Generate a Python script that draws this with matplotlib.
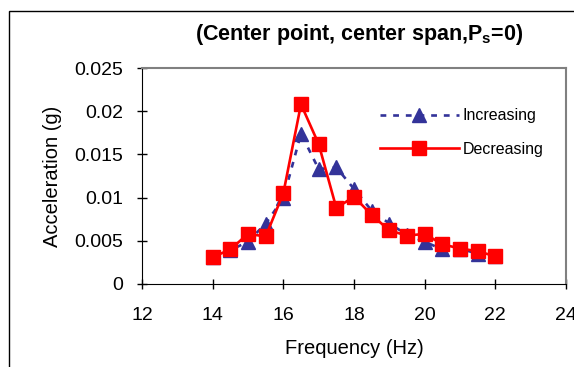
import matplotlib
matplotlib.use('Agg')
import matplotlib.pyplot as plt
from matplotlib.patches import Rectangle

plt.rcParams['font.family'] = ['Liberation Sans', 'DejaVu Sans']

# frequency sweep (Hz)
freq = [14, 14.5, 15, 15.5, 16, 16.5, 17, 17.5, 18, 18.5, 19, 19.5, 20, 20.5, 21, 21.5, 22]

# acceleration response (g)
acc_increasing = [0.0031, 0.0039, 0.0049, 0.0070, 0.0099, 0.0174, 0.0133, 0.0135, 0.0110,
                  0.0085, 0.0070, 0.0057, 0.0049, 0.0040, 0.0041, 0.0035, 0.0032]
acc_decreasing = [0.0031, 0.0040, 0.0058, 0.0055, 0.0105, 0.0208, 0.0162, 0.0088, 0.0101,
                  0.0080, 0.0062, 0.0056, 0.0058, 0.0046, 0.0041, 0.0038, 0.0032]

xticks = [12, 14, 16, 18, 20, 22, 24]
yticks = [0, 0.005, 0.01, 0.015, 0.02, 0.025]
yticklabels = ['0', '0.005', '0.01', '0.015', '0.02', '0.025']

fig = plt.figure(figsize=(5.74, 3.67), dpi=100)
ax = fig.add_axes([0.2474, 0.2262, 0.7386, 0.5885])

# chart border around the whole figure area
fig.patches.append(Rectangle((9 / 574., -0.05), 1.1, 1 - 11 / 367. + 0.05,
                             transform=fig.transFigure, fill=False,
                             edgecolor='black', linewidth=1.0))

ax.plot(freq, acc_increasing, color='#333399', linestyle=(0, (2.2, 2.6)), linewidth=1.9,
        marker='^', markersize=9.5, markerfacecolor='#333399', markeredgecolor='#333399',
        label='Increasing')
ax.plot(freq, acc_decreasing, color='#FF0000', linestyle='-', linewidth=1.9,
        marker='s', markersize=9.5, markerfacecolor='#FF0000', markeredgecolor='#FF0000',
        label='Decreasing')

ax.set_xlim(12, 24)
ax.set_ylim(0, 0.025)
ax.set_xticks(xticks)
ax.set_yticks(yticks)
ax.set_yticklabels(yticklabels)
ax.tick_params(direction='inout', length=7, width=1, labelsize=14)
ax.tick_params(axis='x', pad=13)
ax.tick_params(axis='y', pad=10)

for side in ['left', 'bottom']:
    ax.spines[side].set_color('black')
for side in ['top', 'right']:
    ax.spines[side].set_color('#808080')
    ax.spines[side].set_linewidth(1.5)

ax.set_xlabel('Frequency (Hz)', fontsize=14.5, labelpad=11)
ax.set_ylabel('Acceleration (g)', fontsize=14.5, labelpad=9)

fig.text(0.626, 0.906, r'(Center point, center span,P$_\mathregular{s}$=0)',
         ha='center', va='center', fontsize=15.5, fontweight='bold')

ax.legend(loc='upper left', bbox_to_anchor=(0.561, 0.814), frameon=False,
          fontsize=11.5, handlelength=4.94, handletextpad=0.25, labelspacing=1.16,
          borderpad=0, borderaxespad=0)

plt.savefig('out.png', dpi=100)
